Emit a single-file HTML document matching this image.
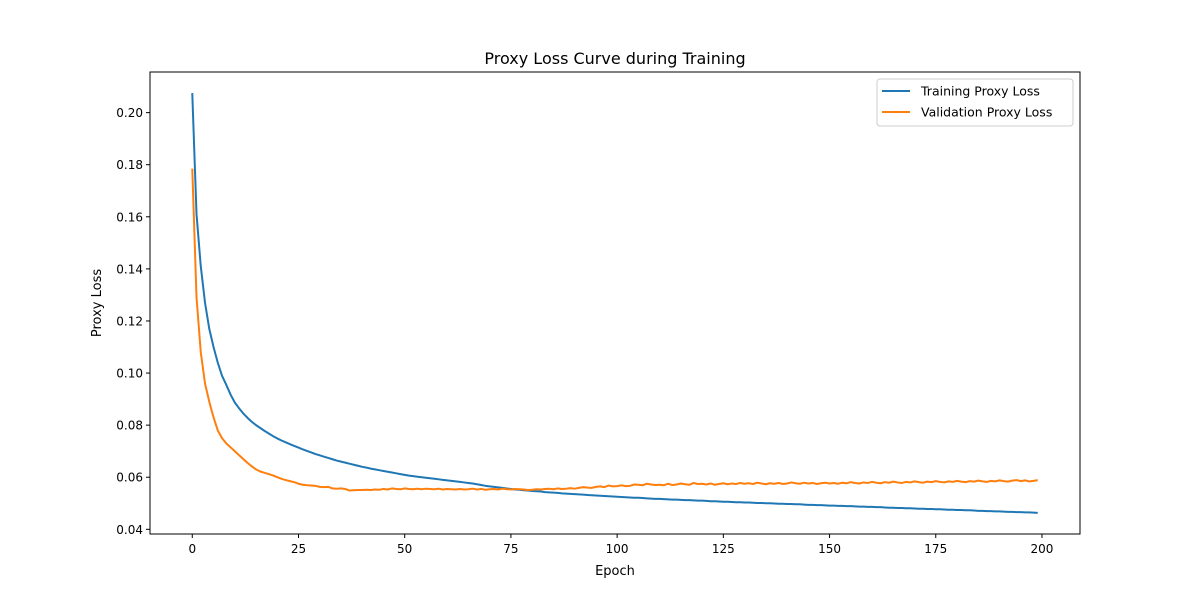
<!DOCTYPE html>
<html><head><meta charset="utf-8"><style>
body{margin:0;background:#fff;font-family:"Liberation Sans","DejaVu Sans",sans-serif;}
svg text{font-family:"DejaVu Sans","Liberation Sans",sans-serif;}
</style></head><body>
<svg id="chart" width="1200" height="600" viewBox="0 0 1200 600" xmlns="http://www.w3.org/2000/svg">
<rect width="1200" height="600" fill="#fff"/>
<text x="615" y="64" font-size="16" text-anchor="middle">Proxy Loss Curve during Training</text>
<g id="axes"></g>
<g id="series"></g>
<rect x="150" y="72" width="930" height="462" fill="none" stroke="#000" stroke-width="1"/>
<text x="615" y="575" font-size="13" text-anchor="middle">Epoch</text>
<text x="101" y="303" font-size="13" text-anchor="middle" transform="rotate(-90 101 303)">Proxy Loss</text>
<g>
<rect x="877" y="79" width="196" height="47" rx="3" fill="#fff" stroke="#ccc"/>
<line x1="882" y1="91" x2="910" y2="91" stroke="#1f77b4" stroke-width="2"/>
<text x="921" y="95.5" font-size="12.5">Training Proxy Loss</text>
<line x1="882" y1="112" x2="910" y2="112" stroke="#ff7f0e" stroke-width="2"/>
<text x="921" y="116.5" font-size="12.5">Validation Proxy Loss</text>
</g>
</svg>
<script>
const xTicks=[0,25,50,75,100,125,150,175,200];
const yTicks=[0.04,0.06,0.08,0.10,0.12,0.14,0.16,0.18,0.20];
const yTickLabels=["0.04","0.06","0.08","0.10","0.12","0.14","0.16","0.18","0.20"];
const train=[.2075,.161,.141,.127,.117,.110,.104,.099,.0955,.0918,
.0887,.0865,.0845,.0828,.0813,.0800,.0789,.0778,.0768,.0758,
.0749,.0741,.0734,.0727,.0720,.0714,.0707,.0701,.0695,.0689,
.0684,.0679,.0674,.0669,.0664,.0660,.0656,.0652,.0648,.0644,
.0640,.0637,.0633,.0630,.0627,.0624,.0621,.0618,.0615,.0612,
.0609,.0606,.0604,.0602,.0600,.0598,.0596,.0594,.0592,.0590,
.0588,.0586,.0584,.0582,.0580,.0578,.0576,.0573,.0570,.0567,
.0565,.0563,.0561,.0559,.0557,.0555,.0553,.0552,.0550,.0549,
.0547,.0546,.0545,.0543,.0542,.0541,.0540,.0538,.0537,.0536,
.0535,.0534,.0533,.0532,.0531,.0530,.0529,.0528,.0527,.0526,
.0525,.0524,.0523,.0522,.0521,.0521,.0520,.0519,.0518,.0517,
.0517,.0516,.0515,.0514,.0514,.0513,.0512,.0512,.0511,.0510,
.0510,.0509,.0508,.0508,.0507,.0506,.0506,.0505,.0504,.0504,
.0503,.0503,.0502,.0501,.0501,.0500,.0500,.0499,.0498,.0498,
.0497,.0497,.0496,.0496,.0495,.0494,.0494,.0493,.0493,.0492,
.0491,.0491,.0490,.0490,.0489,.0489,.0488,.0487,.0487,.0486,
.0486,.0485,.0485,.0484,.0483,.0483,.0482,.0482,.0481,.0481,
.0480,.0479,.0479,.0478,.0478,.0477,.0477,.0476,.0475,.0475,
.0474,.0474,.0473,.0473,.0472,.0471,.0471,.0470,.0470,.0469,
.0469,.0468,.0467,.0467,.0466,.0466,.0465,.0465,.0464,.0463];
const val=[.1785,.129,.108,.096,.089,.083,.078,.075,.073,.0715,
.0700,.0685,.0670,.0655,.0642,.0630,.0622,.0617,.0612,.0607,
.0600,.0594,.0589,.0585,.0581,.0575,.0571,.0569,.0568,.0567,
.0563,.0562,.0563,.0557,.0556,.0557,.0555,.0549,.0550,.0551,
.0551,.0552,.0551,.0553,.0552,.0555,.0553,.0557,.0555,.0554,
.0557,.0555,.0554,.0556,.0554,.0556,.0555,.0554,.0556,.0553,
.0555,.0554,.0553,.0555,.0553,.0554,.0556,.0553,.0555,.0552,
.0554,.0555,.0553,.0556,.0554,.0553,.0555,.0554,.0553,.0551,
.0552,.0554,.0553,.0555,.0556,.0554,.0557,.0555,.0556,.0558,
.0556,.0559,.0562,.0560,.0559,.0563,.0565,.0562,.0568,.0565,
.0566,.0569,.0566,.0567,.0572,.0571,.0569,.0575,.0572,.0570,
.0571,.0569,.0575,.0570,.0572,.0576,.0573,.0571,.0578,.0574,
.0575,.0572,.0576,.0571,.0574,.0577,.0573,.0576,.0574,.0578,
.0575,.0577,.0574,.0579,.0576,.0573,.0577,.0575,.0578,.0574,
.0576,.0580,.0577,.0575,.0579,.0576,.0578,.0574,.0577,.0579,
.0576,.0578,.0575,.0579,.0577,.0581,.0578,.0576,.0580,.0578,
.0582,.0579,.0577,.0581,.0579,.0583,.0580,.0578,.0582,.0580,
.0584,.0581,.0579,.0583,.0581,.0585,.0582,.0580,.0584,.0582,
.0586,.0583,.0581,.0585,.0583,.0587,.0584,.0582,.0586,.0584,
.0588,.0585,.0583,.0587,.0589,.0585,.0588,.0584,.0586,.0589];
const NS="http://www.w3.org/2000/svg";
const L=150,R=1080,T=72,B=534,xmin=-9.95,xmax=208.95,ymin=0.0382,ymax=0.2156;
const X=v=>L+(v-xmin)/(xmax-xmin)*(R-L);
const Y=v=>B-(v-ymin)/(ymax-ymin)*(B-T);
function mk(tag,attrs,parent){const e=document.createElementNS(NS,tag);for(const k in attrs)e.setAttribute(k,attrs[k]);parent.appendChild(e);return e;}
const ax=document.getElementById('axes');
xTicks.forEach(t=>{
 const l=mk('line',{x1:X(t),x2:X(t),y1:B,y2:B+4,stroke:'#000'},ax);
 
 
 const tx=mk('text',{x:X(t),y:B+19,'font-size':12,'text-anchor':'middle'},ax);
 tx.textContent=t;
 
 
});
yTicks.forEach((t,i)=>{
 const l=mk('line',{x1:L-4,x2:L,y1:Y(t),y2:Y(t),stroke:'#000'},ax);
 
 
 const tx=mk('text',{x:L-7,y:Y(t)+4.5,'font-size':12,'text-anchor':'end'},ax);
 tx.textContent=yTickLabels[i];
 
 
});
const sg=document.getElementById('series');
function line(arr,color,name){
 const d=arr.map((v,i)=>(i?'L':'M')+X(i).toFixed(2)+' '+Y(v).toFixed(2)).join('');
 const p=mk('path',{d:d,fill:'none',stroke:color,'stroke-width':2,'stroke-linejoin':'round'},sg);
 
 
}
line(train,'#1f77b4','training-loss-line');
line(val,'#ff7f0e','validation-loss-line');
</script>
</body></html>
